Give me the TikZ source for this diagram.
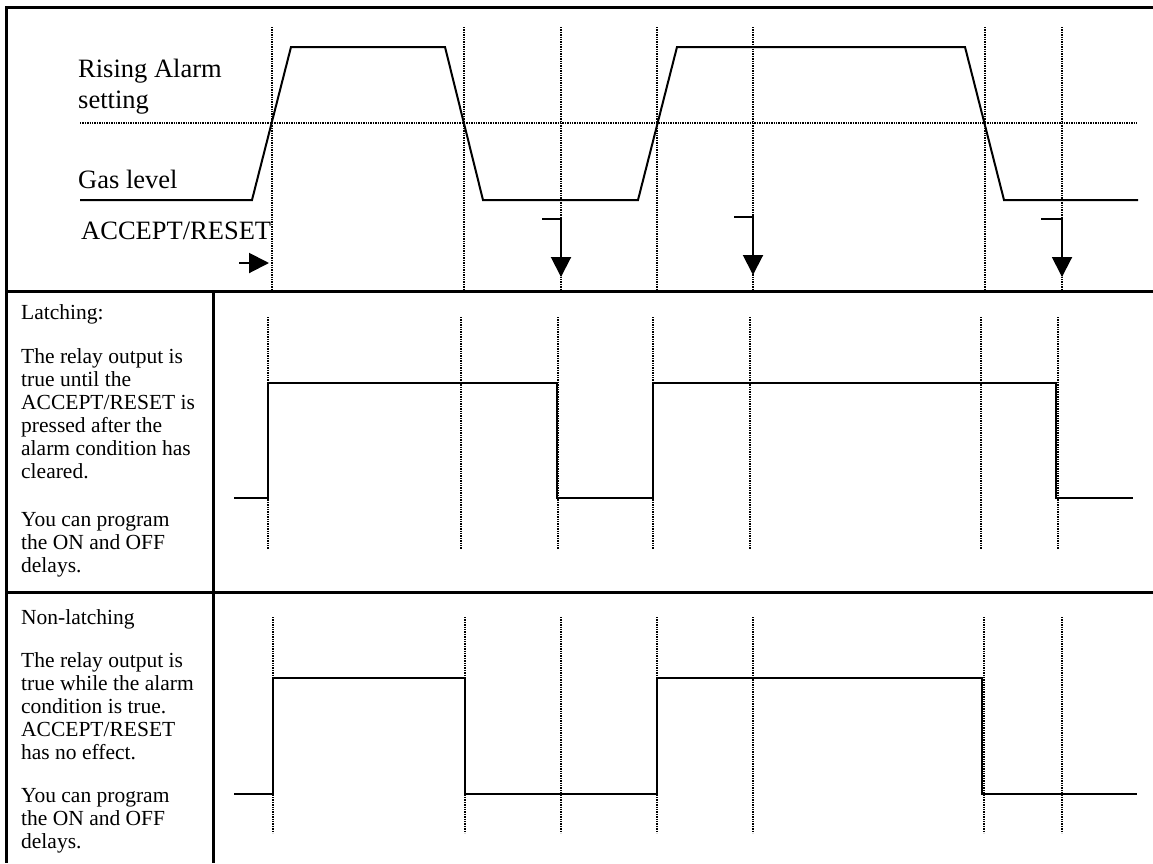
\documentclass[tikz,border=0pt]{standalone}
\usepackage{fontspec}
\setmainfont{Liberation Serif}
\usetikzlibrary{arrows.meta}
\newcommand{\desctext}[1]{\parbox[t]{188pt}{\fontsize{21.5}{23}\selectfont #1}}
\begin{document}
\begin{tikzpicture}[x=1pt,y=-1pt,
  frame/.style={line width=3pt},
  sig/.style={line width=2pt, line join=miter},
  dots/.style={line width=1.4pt, dash pattern=on 1.3pt off 1.1pt},
  press/.style={line width=2pt, -{Triangle[length=20pt,width=20pt]}},
  toplbl/.style={anchor=base west, inner sep=0pt, font=\fontsize{26.5}{30}\selectfont},
  desc/.style={anchor=base west, inner sep=0pt}]

\useasboundingbox (0,0) rectangle (1153,863);
\fill[white] (0,0) rectangle (1153,863);

% table frame
\draw[frame] (1153,7) -- (6,7) -- (6,863);
\draw[frame] (6,291) -- (1153,291);
\draw[frame] (6,592) -- (1153,592);
\draw[frame] (213,291) -- (213,863);

% top row: dotted time markers and threshold
\foreach \x in {272,464,561,657,753,985,1062}
  \draw[dots] (\x,27) -- (\x,291);
\draw[dots] (80,123) -- (1138,123);

% gas level
\draw[sig] (80,200) -- (252,200) -- (291,47) -- (445,47) -- (483,200) -- (638,200)
  -- (677,47) -- (965,47) -- (1004,200) -- (1138,200);

% labels
\node[toplbl] (rising) at (78,77) {Rising Alarm};
\node[toplbl] (setting) at (78,108) {setting};
\node[toplbl] (gas) at (78,188) {Gas level};
\node[toplbl] (accept) at (81,239) {ACCEPT/RESET};

% accept/reset presses
\draw[press] (239,263) -- (269,263);
\draw[press] (542,219) -- (561,219) -- (561,277);
\draw[press] (734,217) -- (753,217) -- (753,275);
\draw[press] (1041,219) -- (1062,219) -- (1062,277);

% row 2: latching
\foreach \x in {268,461,558,653,750,981,1058}
  \draw[dots] (\x,317) -- (\x,549);
\draw[sig] (234,498) -- (268,498) -- (268,383) -- (557,383) -- (557,498) -- (653,498)
  -- (653,383) -- (1056,383) -- (1056,498) -- (1133,498);

\node[desc] (latchhead) at (21,319) {\desctext{Latching:}};
\node[desc] (latchtxt) at (21,363) {\desctext{The relay output is\\ true until the\\ ACCEPT/RESET is\\ pressed after the\\ alarm condition has\\ cleared.}};
\node[desc] (latchdly) at (21,526) {\desctext{You can program\\ the ON and OFF\\ delays.}};

% row 3: non-latching
\foreach \x in {273,465,561,657,753,984,1062}
  \draw[dots] (\x,617) -- (\x,833);
\draw[sig] (234,794) -- (273,794) -- (273,678) -- (465,678) -- (465,794) -- (657,794)
  -- (657,678) -- (982,678) -- (982,794) -- (1137,794);

\node[desc] (nonhead) at (21,624) {\desctext{Non-latching}};
\node[desc] (nontxt) at (21,667) {\desctext{The relay output is\\ true while the alarm\\ condition is true.\\ ACCEPT/RESET\\ has no effect.}};
\node[desc] (nondly) at (21,802) {\desctext{You can program\\ the ON and OFF\\ delays.}};
\end{tikzpicture}
\end{document}
